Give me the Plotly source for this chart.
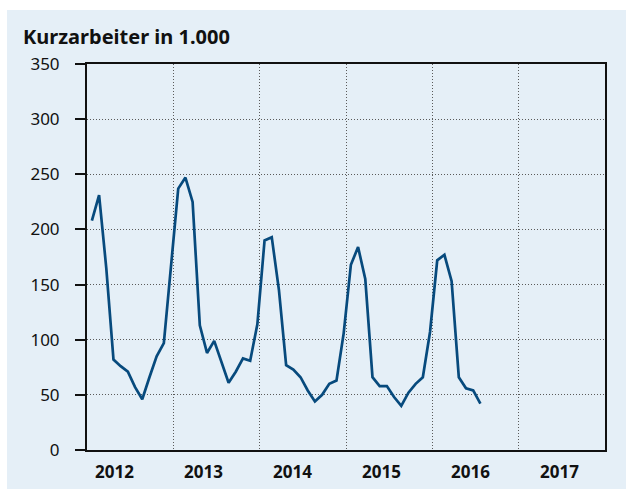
import plotly.graph_objects as go

# Kurzarbeiter (in 1.000), monthly, Jan 2012 - Jul 2016
start_year = 2012
values = [
    208, 231, 165, 82, 76, 71, 57, 46, 66, 85, 97, 168,    # 2012
    237, 247, 225, 113, 88, 99, 79, 61, 71, 83, 81, 114,   # 2013
    190, 193, 145, 77, 73, 66, 54, 44, 50, 60, 63, 106,    # 2014
    168, 184, 155, 66, 58, 58, 48, 40, 52, 60, 66, 107,    # 2015
    172, 177, 153, 66, 56, 54, 42,                         # 2016
]
year_labels = ["2012", "2013", "2014", "2015", "2016", "2017"]
y_ticks = [0, 50, 100, 150, 200, 250, 300, 350]
title_text = "Kurzarbeiter in 1.000"

# month index -> position in years (points sit a bit after month start)
x = [start_year + (k + 0.68) / 12 for k in range(len(values))]

W, H = 626, 489
ML, MR, MT, MB = 87, 21, 64, 39
PW, PH = W - ML - MR, H - MT - MB

def px_x(p):
    return (p - ML) / PW

def px_y(p):
    return (H - MB - p) / PH

PANEL = "#e5eff7"
LINE = "#074a7d"
FONT = "Noto Sans"
GRID = "#5a5a5a"

fig = go.Figure()
fig.add_trace(go.Scatter(
    x=x, y=values, mode="lines",
    line=dict(color=LINE, width=2.7),
    hoverinfo="skip", showlegend=False,
))

fig.add_shape(type="rect", xref="paper", yref="paper",
              x0=px_x(7), x1=px_x(626), y0=px_y(489), y1=px_y(10),
              fillcolor=PANEL, line=dict(width=0), layer="below")

annotations = []
for i, lab in enumerate(year_labels):
    annotations.append(dict(
        x=start_year + 0.32 + 1.031 * i, y=0, xref="x", yref="paper",
        text=f"<b>{lab}</b>", showarrow=False, yanchor="top", xanchor="center",
        yshift=-8, font=dict(family=FONT, size=17, color="#111"),
    ))
annotations.append(dict(
    x=px_x(21), y=px_y(37), xref="paper", yref="paper",
    text=f"<b>{title_text}</b>", showarrow=False, xanchor="left", yanchor="middle",
    font=dict(family=FONT, size=20, color="#111"),
))

fig.update_layout(
    width=W, height=H,
    margin=dict(l=ML, r=MR, t=MT, b=MB, pad=0),
    paper_bgcolor="white", plot_bgcolor=PANEL,
    font=dict(family=FONT, size=17, color="#111"),
    annotations=annotations,
    xaxis=dict(
        range=[start_year, start_year + 6],
        tickvals=list(range(start_year + 1, start_year + 6)),
        showticklabels=False, ticks="",
        showgrid=True, gridcolor=GRID, griddash="1px,2px", gridwidth=1,
        showline=True, linecolor="#111", linewidth=2, mirror=True,
        zeroline=False, fixedrange=True,
    ),
    yaxis=dict(
        range=[0, 350], tickvals=y_ticks,
        ticks="outside", ticklen=10, tickwidth=2, tickcolor="#111",
        ticklabelstandoff=12,
        showgrid=True, gridcolor=GRID, griddash="1px,2px", gridwidth=1,
        showline=True, linecolor="#111", linewidth=2, mirror=True,
        zeroline=False, fixedrange=True,
        tickfont=dict(family=FONT, size=17, color="#111"),
    ),
)

fig.write_html(
    "out.html",
    config={"displayModeBar": False},
    post_script="document.body.style.margin='0px';document.body.style.padding='0px';",
)
